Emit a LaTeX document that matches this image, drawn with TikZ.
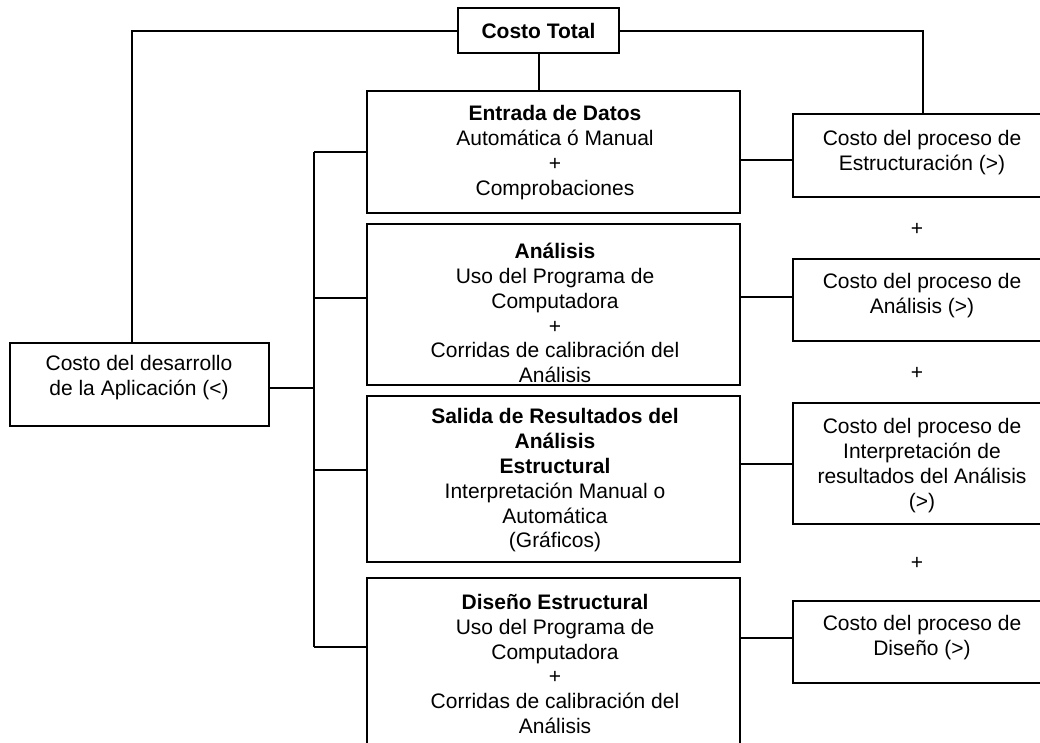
\documentclass[tikz,border=0pt]{standalone}
\usepackage{fontspec}
\setmainfont{Liberation Sans}
\begin{document}
\begin{tikzpicture}[x=1pt,y=-1pt,
  box/.style={draw=black,line width=2pt,rectangle,inner sep=0pt,outer sep=0pt},
  txt/.style={align=center,inner sep=0pt,font=\fontsize{21}{24.8}\selectfont},
  wire/.style={draw=black,line width=2pt}]
\useasboundingbox (0,0) rectangle (1040,742);
\clip (0,0) rectangle (1040,742);
% boxes
\node[box,minimum width=161pt,minimum height=45pt] (tot) at (538.5,30.5) {};
\node[box,minimum width=373pt,minimum height=122pt] (ent) at (553.5,152) {};
\node[box,minimum width=373pt,minimum height=161pt] (ana) at (553.5,304.5) {};
\node[box,minimum width=373pt,minimum height=166pt] (sal) at (553.5,479) {};
\node[box,minimum width=373pt,minimum height=192pt] (dis) at (553.5,674) {};
\node[box,minimum width=259pt,minimum height=83pt] (app) at (139.5,384.5) {};
\node[box,minimum width=259pt,minimum height=83pt] (cE) at (922.5,155.5) {};
\node[box,minimum width=259pt,minimum height=82pt] (cA) at (922.5,300) {};
\node[box,minimum width=259pt,minimum height=121pt] (cI) at (922.5,463.5) {};
\node[box,minimum width=259pt,minimum height=82pt] (cD) at (922.5,642) {};
% texts
\node[txt] (totT) at (538.5,31) {\bfseries Costo Total};
\node[txt] (entT) at (555,152.5) {\bfseries Entrada de Datos\\Automática ó Manual\\+\\Comprobaciones};
\begin{scope}
\clip ([yshift=-1pt]ana.north west) rectangle ([yshift=1pt]ana.south east);
\node[txt] (anaT) at (555,313) {\bfseries Análisis\\Uso del Programa de\\Computadora\\+\\Corridas de calibración del\\Análisis};
\end{scope}
\node[txt] (salT) at (555,480.5) {\bfseries Salida de Resultados del\\\bfseries Análisis\\\bfseries Estructural\\Interpretación Manual o\\Automática\\(Gráficos)};
\node[txt] (disT) at (555,664) {\bfseries Diseño Estructural\\Uso del Programa de\\Computadora\\+\\Corridas de calibración del\\Análisis};
\node[txt] (appT) at (139,377.5) {Costo del desarrollo\\de la Aplicación (<)};
\node[txt] (cET) at (922,152.5) {Costo del proceso de\\Estructuración (>)};
\node[txt] (cAT) at (922,295.5) {Costo del proceso de\\Análisis (>)};
\node[txt] (cIT) at (922,465.5) {Costo del proceso de\\Interpretación de\\resultados del Análisis\\(>)};
\node[txt] (cDT) at (922,637.5) {Costo del proceso de\\Diseño (>)};
\node[txt] (p1) at (917,229) {+};
\node[txt] (p2) at (917,373) {+};
\node[txt] (p3) at (917,563) {+};
% connectors
\coordinate (tl) at (132,30.5);
\draw[wire] (tot.west) -- (tl) -- (tl |- app.north);
\draw[wire] (tot.east) -| (cE.north);
\draw[wire] (tot.south) -- (tot.south |- ent.north);
\coordinate (bt) at (314,152);
\coordinate (bb) at (314,647);
\draw[wire] (bt) -- (bb);
\draw[wire] (app.east |- 0,388) -- (bt |- 0,388);
\draw[wire] (bt) -- (bt -| ent.west);
\draw[wire] (bt |- 0,298) -- (ana.west |- 0,298);
\draw[wire] (bt |- 0,470) -- (sal.west |- 0,470);
\draw[wire] (bb) -- (bb -| dis.west);
\draw[wire] (ent.east |- 0,160) -- (cE.west |- 0,160);
\draw[wire] (ana.east |- 0,297) -- (cA.west |- 0,297);
\draw[wire] (sal.east |- 0,464) -- (cI.west |- 0,464);
\draw[wire] (dis.east |- 0,638) -- (cD.west |- 0,638);
\end{tikzpicture}
\end{document}
